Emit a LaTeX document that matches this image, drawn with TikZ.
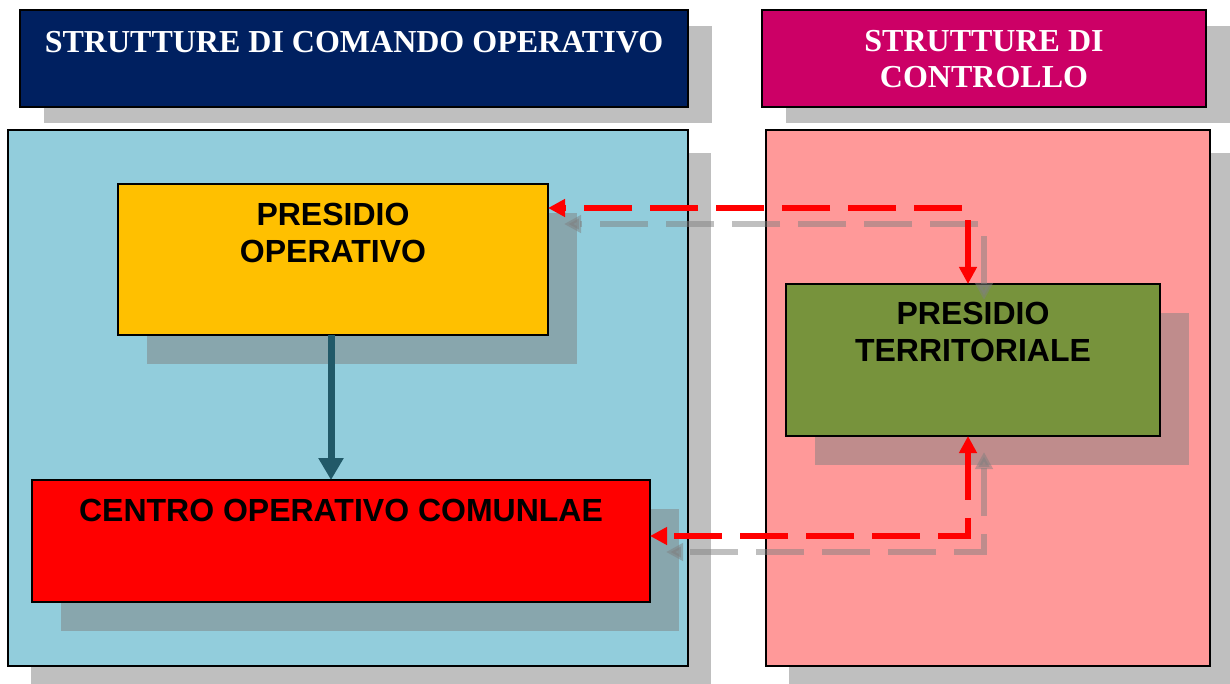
\documentclass[tikz,border=0pt]{standalone}
\usepackage{fontspec}
\setmainfont{Liberation Serif}
\newfontfamily\arialfont{Liberation Sans}
\usetikzlibrary{arrows.meta,shadows,calc}
\definecolor{hnavy}{HTML}{002060}
\definecolor{hmagenta}{HTML}{CC0066}
\definecolor{plblue}{HTML}{92CDDC}
\definecolor{plpink}{HTML}{FF9999}
\definecolor{borange}{HTML}{FFC000}
\definecolor{bolive}{HTML}{77933C}
\definecolor{darrow}{HTML}{215968}
\begin{document}
\begin{tikzpicture}[x=1pt,y=-1pt,
  box/.style={draw=black, line width=1.5pt, anchor=north west, inner sep=0pt, outer sep=0pt},
  headshadow/.style={drop shadow={shadow xshift=24pt, shadow yshift=-16pt, opacity=.5, fill=black!50}},
  panelshadow/.style={drop shadow={shadow xshift=23pt, shadow yshift=-23pt, opacity=.5, fill=black!50}},
  boxshadow/.style={drop shadow={shadow xshift=29pt, shadow yshift=-29pt, opacity=.5, fill=black!50}},
  htitle/.style={anchor=north, inner sep=0pt, align=center, text=white, font=\bfseries\fontsize{32}{36}\selectfont},
  btext/.style={anchor=north, inner sep=0pt, align=center, text=black, font=\arialfont\bfseries\fontsize{32}{37}\selectfont},
  dashline/.style={line width=5.5pt, dash pattern=on 48pt off 18pt, {Triangle[length=17pt,width=17pt]}-{Triangle[length=17pt,width=17pt]}}
]
\useasboundingbox (0,0) rectangle (1230,684);

% headers
\node[box, fill=hnavy, minimum width=668pt, minimum height=97pt, headshadow] (H1) at (20,10) {};
\node[box, fill=hmagenta, minimum width=444pt, minimum height=97pt, headshadow] (H2) at (762,10) {};
\node[htitle] (T1) at ($(H1.north)+(0,21)$) {STRUTTURE DI COMANDO OPERATIVO};
\node[htitle] (T2) at ($(H2.north)+(0,20)$) {STRUTTURE DI\\CONTROLLO};

% panels
\node[box, fill=plblue, minimum width=680pt, minimum height=536pt, panelshadow] (P1) at (8,130) {};
\node[box, fill=plpink, minimum width=444pt, minimum height=536pt, panelshadow] (P2) at (766,130) {};

% boxes
\node[box, fill=borange, minimum width=430pt, minimum height=151pt, boxshadow] (PO) at (118,184) {};
\node[box, fill=bolive, minimum width=374pt, minimum height=152pt, boxshadow] (PT) at (786,284) {};
\node[box, fill=red, minimum width=618pt, minimum height=122pt, boxshadow] (CO) at (32,480) {};

\node[btext] (L1) at ($(PO.north)+(0,19)$) {PRESIDIO\\OPERATIVO};
\node[btext] (L2) at ($(PT.north)+(0,18)$) {PRESIDIO\\TERRITORIALE};
\node[btext] (L3) at ($(CO.north)+(0,19)$) {CENTRO OPERATIVO COMUNLAE};

% dark arrow
\draw[line width=7pt, draw=darrow, -{Triangle[length=22pt,width=24pt]}] ($(PO.south)+(-2,0)$) -- ($(PO.south |- CO.north)+(-2,0)$);

% dashed connectors
\coordinate (ct) at (968,208);
\coordinate (cb) at (968,536);
\begin{scope}[transform canvas={shift={(16pt,-16pt)}}]
\draw[dashline, draw=black!50, opacity=.5] (PT.north -| ct) -- (ct) -- (ct -| PO.east);
\draw[dashline, draw=black!50, opacity=.5] (PT.south -| cb) -- (cb) -- (cb -| CO.east);
\end{scope}
\draw[dashline, draw=red] (PT.north -| ct) -- (ct) -- (ct -| PO.east);
\draw[dashline, draw=red] (PT.south -| cb) -- (cb) -- (cb -| CO.east);
\end{tikzpicture}
\end{document}
